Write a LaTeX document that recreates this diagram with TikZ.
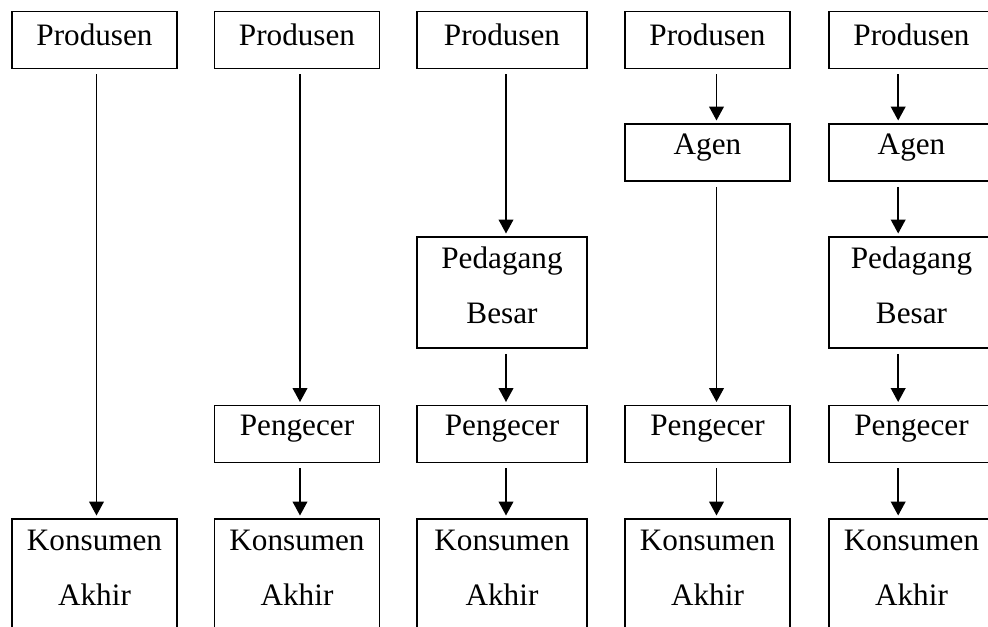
\documentclass[tikz,border=0pt]{standalone}
\usepackage{fontspec}
\setmainfont{Liberation Serif}
\usepackage{tikz}
\usetikzlibrary{arrows.meta}

\begin{document}
\begin{tikzpicture}[x=0.75pt,y=-0.75pt,
  kotak/.style={draw,line width=1.2pt,minimum width=123.75pt,minimum height=42.75pt,
                inner sep=0pt},
  kotakdua/.style={kotak,minimum height=83.25pt},
  teks/.style={font=\fontsize{23.4}{41.25}\selectfont,align=center,inner sep=0pt,yshift=3.75pt},
  teksdua/.style={teks,yshift=1.5pt},
  panah/.style={-{Triangle[length=10.5pt,width=11pt]},line width=1.4pt,
                shorten <=3.75pt,shorten >=2pt}]
  \useasboundingbox (0,0) rectangle (988,627);
  \clip (0,0) rectangle (988,627);
  % produsen
  \node[kotak,label={[teks]center:Produsen}] (p1) at (94.5,40)  {};
  \node[kotak,label={[teks]center:Produsen}] (p2) at (297,40)   {};
  \node[kotak,minimum width=127.5pt,label={[teks]center:Produsen}] (p3) at (502,40) {};
  \node[kotak,label={[teks]center:Produsen}] (p4) at (707.5,40) {};
  \node[kotak,label={[teks]center:Produsen}] (p5) at (911.5,40) {};
  % agen
  \node[kotak,label={[teks]center:Agen}] (a4) at (707.5,152.5) {};
  \node[kotak,label={[teks]center:Agen}] (a5) at (911.5,152.5) {};
  % pedagang besar
  \node[kotakdua,minimum width=127.5pt,label={[teksdua]center:Pedagang\\Besar}] (b3) at (502,292.5) {};
  \node[kotakdua,label={[teksdua]center:Pedagang\\Besar}] (b5) at (911.5,292.5) {};
  % pengecer
  \node[kotak,label={[teks]center:Pengecer}] (e2) at (297,434)   {};
  \node[kotak,minimum width=127.5pt,label={[teks]center:Pengecer}] (e3) at (502,434) {};
  \node[kotak,label={[teks]center:Pengecer}] (e4) at (707.5,434) {};
  \node[kotak,label={[teks]center:Pengecer}] (e5) at (911.5,434) {};
  % konsumen akhir
  \node[kotakdua,label={[teksdua]center:Konsumen\\Akhir}] (k1) at (94.5,574.5)  {};
  \node[kotakdua,label={[teksdua]center:Konsumen\\Akhir}] (k2) at (297,574.5)   {};
  \node[kotakdua,minimum width=127.5pt,label={[teksdua]center:Konsumen\\Akhir}] (k3) at (502,574.5) {};
  \node[kotakdua,label={[teksdua]center:Konsumen\\Akhir}] (k4) at (707.5,574.5) {};
  \node[kotakdua,label={[teksdua]center:Konsumen\\Akhir}] (k5) at (911.5,574.5) {};
  % saluran
  \draw[panah] ([xshift=1.5pt]p1.south) -- ([xshift=1.5pt]k1.north);
  \draw[panah] ([xshift=2.25pt]p2.south) -- ([xshift=2.25pt]e2.north);
  \draw[panah] ([xshift=2.25pt]e2.south) -- ([xshift=2.25pt]k2.north);
  \draw[panah] ([xshift=3pt]p3.south) -- ([xshift=3pt]b3.north);
  \draw[panah] ([xshift=3pt]b3.south) -- ([xshift=3pt]e3.north);
  \draw[panah] ([xshift=3pt]e3.south) -- ([xshift=3pt]k3.north);
  \draw[panah] ([xshift=6.75pt]p4.south) -- ([xshift=6.75pt]a4.north);
  \draw[panah] ([xshift=6.75pt]a4.south) -- ([xshift=6.75pt]e4.north);
  \draw[panah] ([xshift=6.75pt]e4.south) -- ([xshift=6.75pt]k4.north);
  \draw[panah] ([xshift=-10pt]p5.south) -- ([xshift=-10pt]a5.north);
  \draw[panah] ([xshift=-10pt]a5.south) -- ([xshift=-10pt]b5.north);
  \draw[panah] ([xshift=-10pt]b5.south) -- ([xshift=-10pt]e5.north);
  \draw[panah] ([xshift=-10pt]e5.south) -- ([xshift=-10pt]k5.north);
\end{tikzpicture}
\end{document}
